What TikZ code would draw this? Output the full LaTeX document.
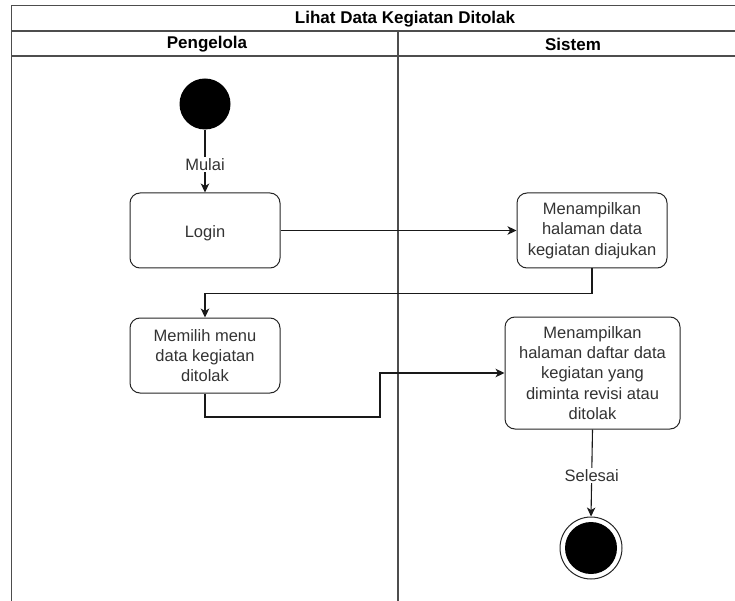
\documentclass[tikz,border=0pt]{standalone}
\usepackage{fontspec}
\setmainfont{Liberation Sans}
\usetikzlibrary{arrows.meta}
\definecolor{lanegray}{HTML}{4D4D4D}
\definecolor{txtgray}{HTML}{333333}
\begin{document}
\begin{tikzpicture}[x=1pt,y=-1pt,
  lane/.style={draw=lanegray, line width=1.4pt},
  act/.style={draw=black!85, rounded corners=10pt, line width=1pt, fill=white, text=txtgray,
    font=\fontsize{16.5}{20.3}\selectfont, align=center, inner sep=0pt,
    execute at begin node={\rule{0pt}{18pt}}},
  flow/.style={draw=black!90, line width=1.1pt, -{Stealth[length=9pt,width=8.5pt,inset=2.5pt]}},
  lbl/.style={fill=white, text=txtgray, font=\fontsize{16.5}{20}\selectfont, inner sep=1.5pt},
  hdr/.style={font=\bfseries\fontsize{17}{20}\selectfont, text=black, inner sep=0pt}]
\useasboundingbox (0,0) rectangle (735,601);
\fill[white] (0,0) rectangle (735,601);
% pool and lanes
\draw[lane] (735,5.5) -- (11.5,5.5) -- (11.5,601);
\draw[lane] (11.5,31) -- (735,31);
\draw[lane] (11.5,56) -- (735,56);
\draw[lane] (398,31) -- (398,601);
\node[hdr] (title) at (405,19) {Lihat Data Kegiatan Ditolak};
\node[hdr] (lanea) at (207,44) {Pengelola};
\node[hdr] (laneb) at (573,44) {Sistem};
% nodes
\node[circle, fill=black, minimum size=51pt, inner sep=0pt] (start) at (205,104) {};
\node[act, minimum width=150pt, minimum height=75pt] (login) at (205,230.5) {Login};
\node[act, minimum width=150pt, minimum height=75pt] (show1) at (592,230.5)
  {Menampilkan\\halaman data\\kegiatan diajukan};
\node[act, minimum width=150pt, minimum height=75pt] (menu) at (205,355.5)
  {Memilih menu\\data kegiatan\\ditolak};
\node[act, minimum width=175pt, minimum height=112pt] (show2) at (592.5,373)
  {Menampilkan\\halaman daftar data\\kegiatan yang\\diminta revisi atau\\ditolak};
\node[circle, draw=black!85, line width=1pt, minimum size=62pt, inner sep=0pt] (endo) at (591,548) {};
\node[circle, fill=black, minimum size=52pt, inner sep=0pt] (endi) at (591,548) {};
\coordinate (k1) at (380,417);
% connectors
\draw[flow] (start) -- node[lbl, pos=0.56] {Mulai} (login);
\draw[flow] (login) -- (show1);
\draw[flow] (show1.south) -- ++(0,25) -| (menu.north);
\draw[flow] (menu.south) |- (k1) |- (show2.west);
\draw[flow] (show2.south) -- node[lbl, pos=0.53] {Selesai} (endo.north);
\end{tikzpicture}
\end{document}
